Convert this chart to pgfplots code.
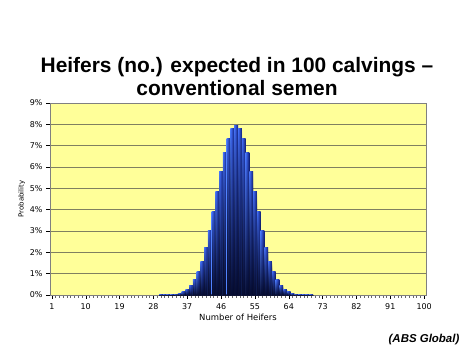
\documentclass[border=0pt]{standalone}
\usepackage{pgfplots}
\pgfplotsset{compat=1.18}
\usetikzlibrary{fadings}
\usepackage{fontspec}
\setmainfont{Liberation Sans}
\newfontfamily\dejavu{DejaVu Sans}
\definecolor{plotbg}{RGB}{255,255,153}
\definecolor{gridc}{RGB}{128,128,96}
\definecolor{barleft}{RGB}{70,115,255}
\definecolor{barright}{RGB}{15,30,120}
\definecolor{barbot}{RGB}{3,8,40}
\definecolor{barline}{RGB}{10,15,50}
\pgfdeclarehorizontalshading{barshade}{100bp}{color(0bp)=(barleft); color(25bp)=(barleft); color(75bp)=(barright); color(100bp)=(barright)}
\tikzfading[name=barfade, bottom color=transparent!5, middle color=transparent!55, top color=transparent!100]
\begin{document}
\begin{tikzpicture}
\path[use as bounding box, fill=white] (0,0) rectangle (474bp,355bp);
\begin{axis}[
  at={(50bp,60bp)}, anchor=south west,
  scale only axis, width=376bp, height=192bp,
  xmin=0.5, xmax=100.5, ymin=0, ymax=9,
  axis background/.style={fill=plotbg},
  axis line style={gray},
  xtick={1,10,19,28,37,46,55,64,73,82,91,100},
  minor xtick={1,2,...,100},
  ytick={0,1,...,9},
  yticklabel={\pgfmathprintnumber{\tick}\%},
  tick align=outside,
  tick pos=left,
  major tick length=4bp, minor tick length=3bp,
  tick style={black, line width=0.4pt},
  minor tick style={gray!80!black},
  ymajorgrids, grid style={gridc, line width=0.6pt},
  /pgf/number format/assume math mode=true,
  ticklabel style={font=\dejavu\fontsize{8}{9}\selectfont},
  xticklabel style={yshift=-1bp},
  xlabel={Number of Heifers},
  xlabel style={font=\dejavu\fontsize{8.5}{10}\selectfont, yshift=2bp},
  ylabel={Probability},
  ylabel style={font=\dejavu\fontsize{7}{8}\selectfont, yshift=-2bp},
  clip=false,
]
\foreach \k/\p in {30/0.0023, 31/0.0052, 32/0.0113, 33/0.0233, 34/0.0458,
  35/0.0864, 36/0.156, 37/0.270, 38/0.447, 39/0.711, 40/1.084, 41/1.587,
  42/2.229, 43/3.007, 44/3.895, 45/4.847, 46/5.796, 47/6.659, 48/7.353,
  49/7.803, 50/7.959, 51/7.803, 52/7.353, 53/6.659, 54/5.796, 55/4.847,
  56/3.895, 57/3.007, 58/2.229, 59/1.587, 60/1.084, 61/0.711, 62/0.447,
  63/0.270, 64/0.156, 65/0.0864, 66/0.0458, 67/0.0233, 68/0.0113,
  69/0.0052, 70/0.0023}{%
  \edef\temp{\noexpand\addplot[ybar, bar width=1, bar shift=0pt, draw=none,
      shading=barshade] coordinates {(\k,\p)};
    \noexpand\addplot[ybar, bar width=1, bar shift=0pt, draw=barline,
      line width=0.3pt, fill=barbot, path fading=barfade] coordinates {(\k,\p)};}%
  \temp
}
\end{axis}
\node[anchor=base, font=\bfseries\fontsize{21}{24}\selectfont] at (237bp,282bp) {Heifers (no.) expected in 100 calvings –};
\node[anchor=base, font=\bfseries\fontsize{21}{24}\selectfont] at (237bp,259bp) {conventional semen};
\node[anchor=base, font=\bfseries\itshape\fontsize{11.5}{13}\selectfont] at (424bp,13bp) {(ABS Global)};
\end{tikzpicture}
\end{document}
